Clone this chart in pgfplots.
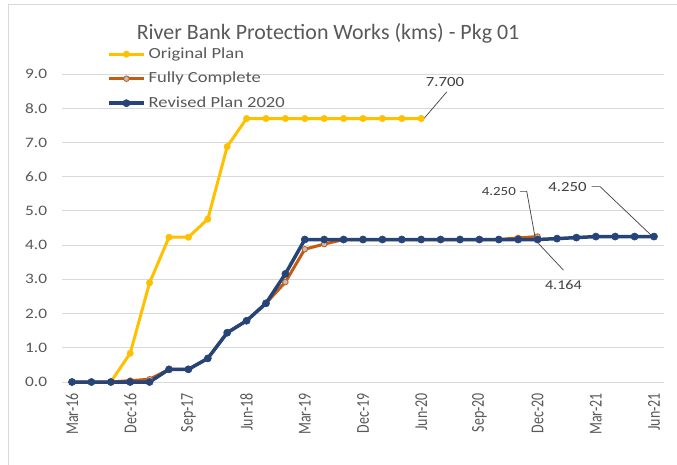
\documentclass[border=0pt]{standalone}
\usepackage{pgfplots}
\pgfplotsset{compat=1.18}
\usepackage{fontspec}
\setmainfont{Carlito}
\newfontfamily\wide[FakeStretch=1.2]{Carlito}
\definecolor{yel}{HTML}{FFC000}
\definecolor{org}{HTML}{C55A11}
\definecolor{nav}{HTML}{264478}
\definecolor{gtxt}{HTML}{595959}
\definecolor{grd}{HTML}{D9D9D9}
\definecolor{lbl}{HTML}{404040}
\definecolor{mfill}{HTML}{BFBFBF}
\begin{document}
\begin{tikzpicture}
\path[use as bounding box] (0,0) rectangle (677bp,-465bp);
\fill[white] (0,0) rectangle (677bp,-465bp);
\draw[grd, line width=1bp] (8bp,-465bp) -- (8bp,-4bp) -- (677bp,-4bp);
\node[gtxt, font=\fontsize{22}{22}\selectfont] at (328bp,-33bp) {River Bank Protection Works (kms) - Pkg 01};
\begin{axis}[
 at={(62.3bp,-382bp)}, anchor=south west,
 scale only axis, width=601.4bp, height=308bp,
 xmin=-0.5, xmax=30.5, ymin=0, ymax=9,
 clip=false,
 axis line style={draw=none},
 ymajorgrids, grid style={grd, line width=1bp},
 major tick length=0pt,
 ytick={0,1,...,9},
 /pgf/number format/assume math mode=true,
 y tick label style={/pgf/number format/fixed, /pgf/number format/fixed zerofill, /pgf/number format/precision=1, font=\wide\fontsize{14.5}{14.5}\selectfont, text=gtxt, inner sep=0pt},
 yticklabel shift=15bp,
 xtick={0,3,...,30},
 xticklabels={\scalebox{1}[1.3]{Mar-16},\scalebox{1}[1.3]{Dec-16},\scalebox{1}[1.3]{Sep-17},\scalebox{1}[1.3]{Jun-18},\scalebox{1}[1.3]{Mar-19},\scalebox{1}[1.3]{Dec-19},\scalebox{1}[1.3]{Jun-20},\scalebox{1}[1.3]{Sep-20},\scalebox{1}[1.3]{Dec-20},\scalebox{1}[1.3]{Mar-21},\scalebox{1}[1.3]{Jun-21}},
 x tick label style={rotate=90, anchor=east, inner sep=0pt, font=\fontsize{14}{14}\selectfont, text=gtxt},
 xticklabel shift=11bp,
 legend style={at={(0.0743,1.0877)}, anchor=north west, draw=none, fill=none, inner sep=0pt,
   font=\wide\fontsize{15.5}{15.5}\selectfont, text=gtxt,
   nodes={inner sep=0pt, text height=11bp, text depth=3bp}, row sep=10.5bp,
   /tikz/every odd column/.append style={column sep=3bp}},
 legend cell align=left,
 legend image code/.code={\draw[mark repeat=2,mark phase=2,#1] plot coordinates {(0bp,0bp) (17.5bp,0bp) (35bp,0bp)};},
]
\addplot[yel, line width=3bp, mark=*, mark size=3.2bp, mark options={solid, fill=yel, draw=yel, line width=0.5bp}] coordinates {
(0,0) (1,0) (2,0) (3,0.84) (4,2.90) (5,4.23) (6,4.23) (7,4.76) (8,6.88) (9,7.70) (10,7.70) (11,7.70) (12,7.70) (13,7.70) (14,7.70) (15,7.70) (16,7.70) (17,7.70) (18,7.70)};
\addlegendentry{Original Plan}
\addplot[org, line width=3bp, mark=*, mark size=2.8bp, mark options={solid, fill=mfill, draw=org, line width=0.8bp}] coordinates {
(0,0) (1,0) (2,0) (3,0.04) (4,0.08) (5,0.37) (6,0.37) (7,0.69) (8,1.44) (9,1.79) (10,2.30) (11,2.92) (12,3.88) (13,4.03) (14,4.164) (15,4.164) (16,4.164) (17,4.164) (18,4.164) (19,4.164) (20,4.164) (21,4.164) (22,4.164) (23,4.21) (24,4.25)};
\addlegendentry{Fully Complete}
\addplot[nav, line width=3.5bp, mark=*, mark size=3.6bp, mark options={solid, fill=nav, draw=nav, line width=0.5bp}] coordinates {
(0,0) (1,0) (2,0) (3,0) (4,0) (5,0.37) (6,0.37) (7,0.69) (8,1.44) (9,1.79) (10,2.30) (11,3.16) (12,4.164) (13,4.164) (14,4.164) (15,4.164) (16,4.164) (17,4.164) (18,4.164) (19,4.164) (20,4.164) (21,4.164) (22,4.164) (23,4.164) (24,4.164) (25,4.19) (26,4.22) (27,4.25) (28,4.25) (29,4.25) (30,4.25)};
\addlegendentry{Revised Plan 2020}
% data labels
\node[lbl, font=\wide\fontsize{14}{14}\selectfont, inner sep=0pt] at (axis cs:19.23,8.78) {7.700};
\draw[lbl, line width=0.7bp] (axis cs:19.32,8.48) -- (axis cs:18.07,7.65);
\node[lbl, font=\wide\fontsize{12.5}{12.5}\selectfont, inner sep=0pt] at (axis cs:22.0,5.57) {4.250};
\draw[lbl, line width=0.7bp] (axis cs:23.09,5.57) -- (axis cs:23.44,5.57) -- (axis cs:23.87,4.23);
\node[lbl, font=\wide\fontsize{13.5}{13.5}\selectfont, inner sep=0pt] at (axis cs:25.33,2.84) {4.164};
\draw[lbl, line width=0.7bp] (axis cs:24.04,4.05) -- (axis cs:25.33,3.27);
\node[lbl, font=\wide\fontsize{14}{14}\selectfont, inner sep=0pt] at (axis cs:25.54,5.69) {4.250};
\draw[lbl, line width=0.7bp] (axis cs:26.79,5.71) -- (axis cs:27.22,5.71) -- (axis cs:30.0,4.21);
\end{axis}
\end{tikzpicture}
\end{document}
